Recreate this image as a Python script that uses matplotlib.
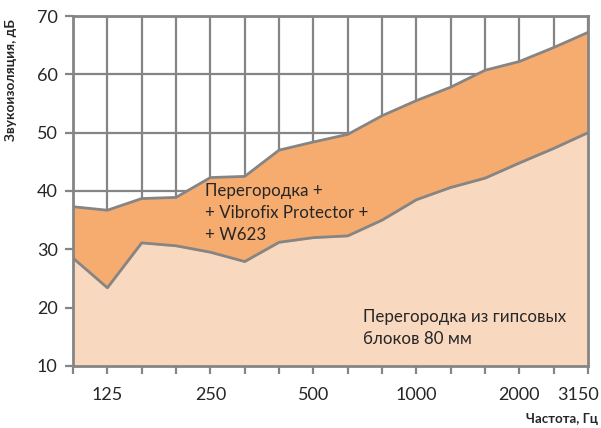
import matplotlib.pyplot as plt
from matplotlib.transforms import ScaledTranslation

plt.rcParams['font.family'] = ['Lato', 'DejaVu Sans']

freqs = ["100", "125", "160", "200", "250", "315", "400", "500",
         "630", "800", "1000", "1250", "1600", "2000", "2500", "3150"]
shown = ["125", "250", "500", "1000", "2000", "3150"]

# Перегородка + Vibrofix Protector + W623
upper = [37.3, 36.7, 38.7, 38.9, 42.3, 42.5, 47.0, 48.4,
         49.7, 52.9, 55.5, 57.8, 60.7, 62.2, 64.6, 67.2]
# Перегородка из гипсовых блоков 80 мм
lower = [28.5, 23.4, 31.1, 30.6, 29.5, 27.9, 31.2, 32.0,
         32.3, 35.0, 38.5, 40.6, 42.2, 44.8, 47.3, 50.0]

grey = "#858585"
x = list(range(len(freqs)))

fig = plt.figure(figsize=(6.01, 4.28), dpi=100)
ax = fig.add_axes([0.1215, 0.145, 0.857, 0.8176])

ax.fill_between(x, 0, lower, color="#f8d8bf", zorder=1)
ax.fill_between(x, lower, upper, color="#f6ac6f", zorder=1)
ax.plot(x, lower, color=grey, lw=2, zorder=3)
ax.plot(x, upper, color=grey, lw=2, zorder=3)

ax.set_xlim(0, len(freqs) - 1)
ax.set_ylim(10, 70)
ax.set_yticks(range(10, 71, 10))
ax.set_xticks(x)
ax.set_xticklabels([f if f in shown else "" for f in freqs])
ax.grid(True, color=grey, lw=1.6, zorder=0)
ax.set_axisbelow(True)
for s in ax.spines.values():
    s.set_color(grey)
    s.set_linewidth(2)
    s.set_zorder(4)
ax.tick_params(axis="both", colors=grey, width=1.6, length=6,
               labelcolor="#262626", labelsize=13)
ax.tick_params(axis="x", pad=9)
ax.tick_params(axis="y", pad=5)

# last label pulled inside the figure
last = ax.get_xticklabels()[-1]
last.set_transform(last.get_transform() + ScaledTranslation(-0.1, 0, fig.dpi_scale_trans))

ax.text(3.85, 36.2, "Перегородка +\n+ Vibrofix Protector +\n+ W623",
        fontsize=12.2, color="#262626", va="center", linespacing=1.48, zorder=5)
ax.text(8.45, 16.5, "Перегородка из гипсовых\nблоков 80 мм",
        fontsize=12.2, color="#262626", va="center", linespacing=1.48, zorder=5)

fig.text(0.018, 0.955, "Звукоизоляция, дБ", rotation=90, ha="center",
         va="top", fontsize=9.8, fontweight="bold", color="#262626")
fig.text(0.995, 0.008, "Частота, Гц", ha="right", va="bottom",
         fontsize=9.5, fontweight="bold", color="#262626")

fig.savefig("out.png", dpi=100)
